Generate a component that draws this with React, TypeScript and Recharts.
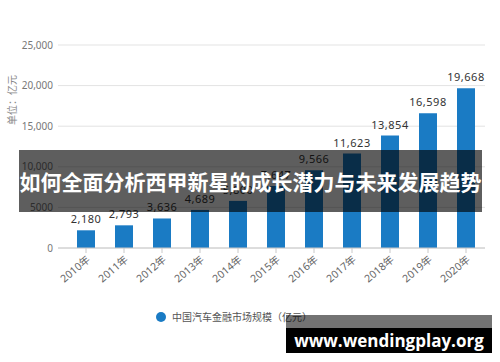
import React from "react";
import { BarChart, Bar, XAxis, YAxis, CartesianGrid, LabelList } from "recharts";

const years = ["2010年", "2011年", "2012年", "2013年", "2014年", "2015年", "2016年", "2017年", "2018年", "2019年", "2020年"];
const marketSize = [2180, 2793, 3636, 4689, 5800, 7647, 9566, 11623, 13854, 16598, 19668];
const yTicks = [0, 5000, 10000, 15000, 20000, 25000];
const yTickLabels = ["0", "5000", "10,000", "15,000", "20,000", "25,000"];

const seriesName = "中国汽车金融市场规模（亿元）";
const unitLabel = "单位：亿元";
const bannerText = "如何全面分析西甲新星的成长潜力与未来发展趋势";
const siteText = "www.wendingplay.org";

const BLUE = "#1a7bc4";
const FONT = '"Noto Sans", "Noto Sans CJK SC", sans-serif';

const data = years.map((y, i) => ({ year: y, value: marketSize[i] }));

// unit label sits beside the upper half of the y axis
const UnitLabel = ({ viewBox }: any) => (
  <text
    x={0}
    y={0}
    transform={`translate(${viewBox.x + 16}, 100) rotate(-90)`}
    textAnchor="middle"
    fill="#888"
    fontSize={10}
    fontFamily={FONT}
  >
    {unitLabel}
  </text>
);

export default function App() {
  return (
    <div style={{ position: "absolute", left: 0, top: 0, width: 500, height: 362, background: "#fff", overflow: "hidden", fontFamily: FONT }}>
      <BarChart width={500} height={362} data={data} margin={{ top: 45, right: 15, left: 0, bottom: 0 }}>
        <CartesianGrid stroke="#e3e3e3" vertical={false} />
        <XAxis
          dataKey="year"
          interval={0}
          height={114}
          padding={{ left: 9, right: 0 }}
          stroke="#c8c8c8"
          tickSize={5}
          angle={-40}
          textAnchor="end"
          tick={{ fill: "#666", fontSize: 10.5, fontFamily: FONT }}
        />
        <YAxis
          width={58}
          domain={[0, 25000]}
          ticks={yTicks}
          axisLine={false}
          tickLine={false}
          tickMargin={0}
          tickSize={5}
          tickFormatter={(v: number) => yTickLabels[yTicks.indexOf(v)] ?? String(v)}
          tick={{ fill: "#777", fontSize: 10, fontFamily: FONT }}
          label={<UnitLabel />}
        />
        <Bar dataKey="value" fill={BLUE} barSize={18} isAnimationActive={false}>
          <LabelList
            dataKey="value"
            position="top"
            offset={7}
            formatter={(v: number) => v.toLocaleString("en-US")}
            style={{ fill: "#333", fontSize: 11, fontFamily: FONT, letterSpacing: 0.5 }}
          />
        </Bar>
      </BarChart>

      {/* legend */}
      <div style={{ position: "absolute", left: 156, top: 309, display: "flex", alignItems: "center", gap: 6, fontSize: 10, color: "#555" }}>
        <span style={{ width: 10, height: 10, borderRadius: 5, background: BLUE, display: "inline-block" }} />
        {seriesName}
      </div>

      {/* overlay banners */}
      <div style={{ position: "absolute", left: 19, top: 150, width: 463, height: 62, background: "rgba(0,0,0,0.63)", color: "#fff", fontFamily: '"Noto Sans CJK SC", sans-serif', fontWeight: 700, fontSize: 21, lineHeight: "62px", textAlign: "center", whiteSpace: "nowrap" }}>
        {bannerText}
      </div>
      <div style={{ position: "absolute", left: 286, top: 315, width: 206, height: 13, background: "rgba(0,0,0,0.55)" }} />
      <div style={{ position: "absolute", left: 286, top: 328, width: 206, height: 25, background: "#000", color: "#fff", fontFamily: '"Open Sans", "DejaVu Sans", sans-serif', fontWeight: 700, fontSize: 17, lineHeight: "25px", textAlign: "center" }}>
        {siteText}
      </div>
    </div>
  );
}
